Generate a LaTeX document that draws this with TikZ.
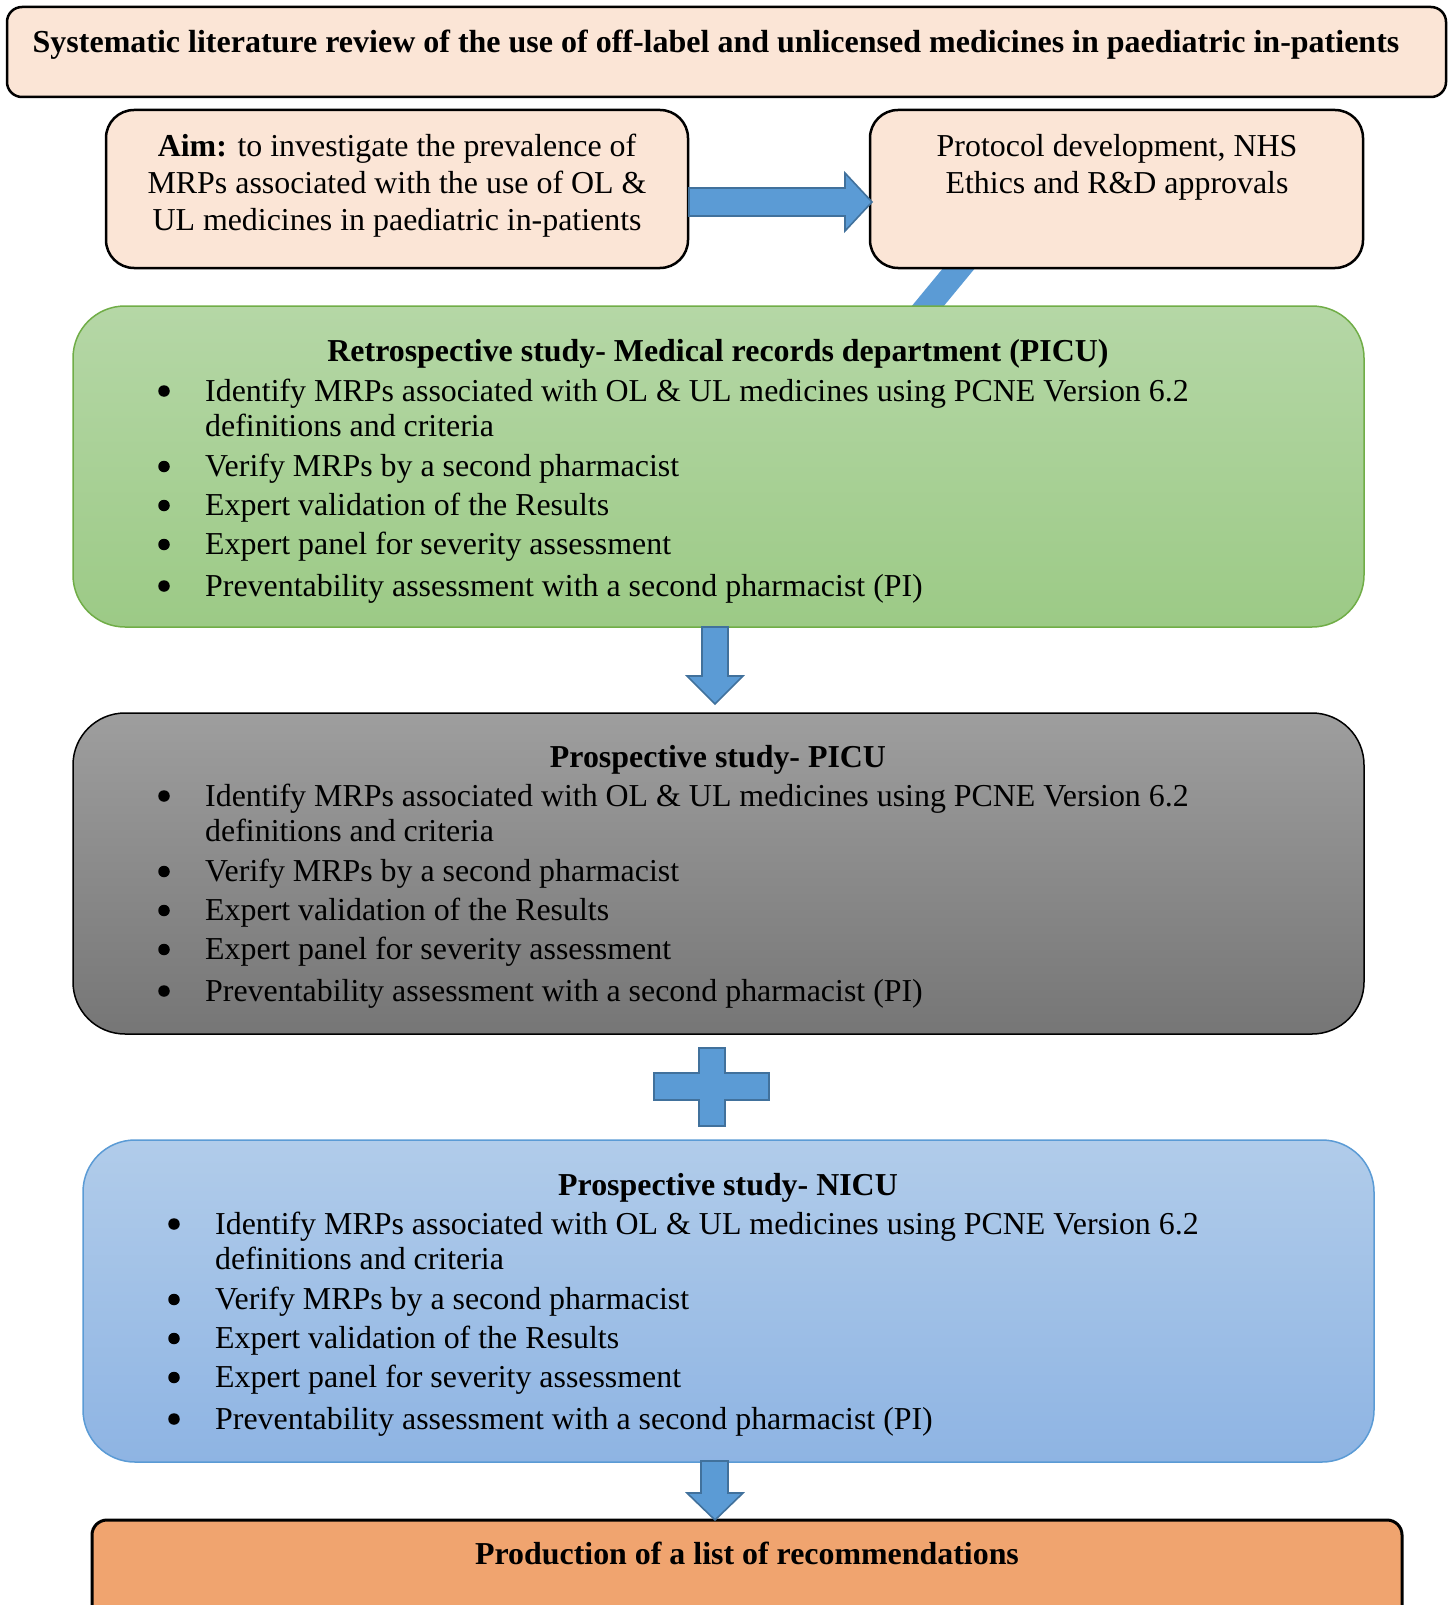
\documentclass[tikz,border=0pt]{standalone}
\usepackage{fontspec}
\setmainfont{Liberation Serif}
\usetikzlibrary{calc}
\definecolor{peach}{HTML}{FBE5D6}
\definecolor{gtop}{HTML}{B5D7A6}
\definecolor{gbot}{HTML}{9CCA86}
\definecolor{gedge}{HTML}{70AD47}
\definecolor{ktop}{HTML}{9E9E9E}
\definecolor{kbot}{HTML}{767676}
\definecolor{btop}{HTML}{B1CCEA}
\definecolor{bbot}{HTML}{8EB4E3}
\definecolor{bedge}{HTML}{5B9BD5}
\definecolor{orangefill}{HTML}{F0A46F}
\definecolor{arrowblue}{HTML}{5B9BD5}
\definecolor{arrowedge}{HTML}{41719C}
\begin{document}
\begin{tikzpicture}[x=1pt,y=-1pt,
  box/.style={rounded corners=#1, inner sep=0pt, outer sep=0pt, anchor=north west},
  txt/.style={font=\fontsize{31.9}{39}\selectfont, inner sep=0pt, anchor=base},
  ltxt/.style={font=\fontsize{31.9}{39}\selectfont, inner sep=0pt, anchor=base west},
  dot/.style={circle, fill=black, inner sep=0pt, minimum size=11.5pt, yshift=10pt},
  arr/.style={fill=arrowblue, draw=arrowedge, line width=1.6pt, line join=miter}]
\useasboundingbox (0,0) rectangle (1448,1605);

% diagonal arrow (mostly hidden behind boxes)
\draw[arr, draw=none] (958,250) -- (990,250) -- (924,330) -- (892,330) -- cycle;

% boxes
\node[box=15pt, draw, line width=2.5pt, fill=peach, minimum width=1439pt, minimum height=90pt] (title) at (7,7) {};
\node[box=28pt, draw, line width=2.5pt, fill=peach, minimum width=582pt, minimum height=158pt] (aim) at (106,110) {};
\node[box=28pt, draw, line width=2.5pt, fill=peach, minimum width=493pt, minimum height=158pt] (protocol) at (870,110) {};
\node[box=52pt, draw=gedge, line width=1.5pt, top color=gtop, bottom color=gbot, minimum width=1291pt, minimum height=321pt] (retro) at (73,306) {};
\node[box=52pt, draw, line width=1.5pt, top color=ktop, bottom color=kbot, minimum width=1291pt, minimum height=321pt] (picu) at (73,713) {};
\node[box=52pt, draw=bedge, line width=1.5pt, top color=btop, bottom color=bbot, minimum width=1291pt, minimum height=322pt] (nicu) at (83,1140) {};
\node[box=15pt, draw, line width=3pt, fill=orangefill, minimum width=1310pt, minimum height=120pt] (reco) at (92,1520) {};

% block arrows
\draw[arr] (689,188) -- (845,188) -- (845,173) -- (872,202) -- (845,231) -- (845,216) -- (689,216) -- cycle;
\draw[arr] (702,627) -- (728,627) -- (728,676) -- (743,676) -- (715,704) -- (687,676) -- (702,676) -- cycle;
\draw[arr] (699,1048) -- (725,1048) -- (725,1073) -- (769,1073) -- (769,1100) -- (725,1100) -- (725,1126)
  -- (699,1126) -- (699,1100) -- (654,1100) -- (654,1073) -- (699,1073) -- cycle;
\draw[arr] (701,1461) -- (728,1461) -- (728,1493) -- (743,1493) -- (715,1520) -- (687,1493) -- (701,1493) -- cycle;

% texts
\node[txt, font=\fontsize{32.0}{39}\selectfont] (titletext) at (716,53) {\bfseries Systematic literature review of the use of off-label and unlicensed medicines in paediatric in-patients};
\node[txt] (aim1) at (397,157) {\bfseries Aim:\mdseries{} to investigate the prevalence of};
\node[txt] (aim2) at (397,194) {MRPs associated with the use of OL \&};
\node[txt] (aim3) at (397,231) {UL medicines in paediatric in-patients};
\node[txt] (prot1) at (1117,157) {Protocol development, NHS};
\node[txt] (prot2) at (1117,194) {Ethics and R\&D approvals};

\node[txt] (retrohead) at (718,361) {\bfseries Retrospective study- Medical records department (PICU)};
\begin{scope}[shift={(0,401)}]
\node[dot] (rb1) at (164,0) {};
\node[ltxt] (rl1) at (205,0) {Identify MRPs associated with OL \& UL medicines using PCNE Version 6.2};
\node[ltxt] (rl1b) at (205,35.5) {definitions and criteria};
\node[dot] (rb2) at (164,75.5) {};
\node[ltxt] (rl2) at (205,75.5) {Verify MRPs by a second pharmacist};
\node[dot] (rb3) at (164,114.5) {};
\node[ltxt] (rl3) at (205,114.5) {Expert validation of the Results};
\node[dot] (rb4) at (164,153.5) {};
\node[ltxt] (rl4) at (205,153.5) {Expert panel for severity assessment};
\node[dot] (rb5) at (164,195) {};
\node[ltxt] (rl5) at (205,195) {Preventability assessment with a second pharmacist (PI)};
\end{scope}

\node[txt] (picuhead) at (718,767) {\bfseries Prospective study- PICU};
\begin{scope}[shift={(0,806)}]
\node[dot] (pb1) at (164,0) {};
\node[ltxt] (pl1) at (205,0) {Identify MRPs associated with OL \& UL medicines using PCNE Version 6.2};
\node[ltxt] (pl1b) at (205,35.5) {definitions and criteria};
\node[dot] (pb2) at (164,75.5) {};
\node[ltxt] (pl2) at (205,75.5) {Verify MRPs by a second pharmacist};
\node[dot] (pb3) at (164,114.5) {};
\node[ltxt] (pl3) at (205,114.5) {Expert validation of the Results};
\node[dot] (pb4) at (164,153.5) {};
\node[ltxt] (pl4) at (205,153.5) {Expert panel for severity assessment};
\node[dot] (pb5) at (164,195) {};
\node[ltxt] (pl5) at (205,195) {Preventability assessment with a second pharmacist (PI)};
\end{scope}

\node[txt] (nicuhead) at (728,1195) {\bfseries Prospective study- NICU};
\begin{scope}[shift={(0,1234)}]
\node[dot] (nb1) at (174,0) {};
\node[ltxt] (nl1) at (215,0) {Identify MRPs associated with OL \& UL medicines using PCNE Version 6.2};
\node[ltxt] (nl1b) at (215,35.5) {definitions and criteria};
\node[dot] (nb2) at (174,75.5) {};
\node[ltxt] (nl2) at (215,75.5) {Verify MRPs by a second pharmacist};
\node[dot] (nb3) at (174,114.5) {};
\node[ltxt] (nl3) at (215,114.5) {Expert validation of the Results};
\node[dot] (nb4) at (174,153.5) {};
\node[ltxt] (nl4) at (215,153.5) {Expert panel for severity assessment};
\node[dot] (nb5) at (174,195) {};
\node[ltxt] (nl5) at (215,195) {Preventability assessment with a second pharmacist (PI)};
\end{scope}

\node[txt] (recotext) at (747,1564) {\bfseries Production of a list of recommendations};
\end{tikzpicture}
\end{document}
